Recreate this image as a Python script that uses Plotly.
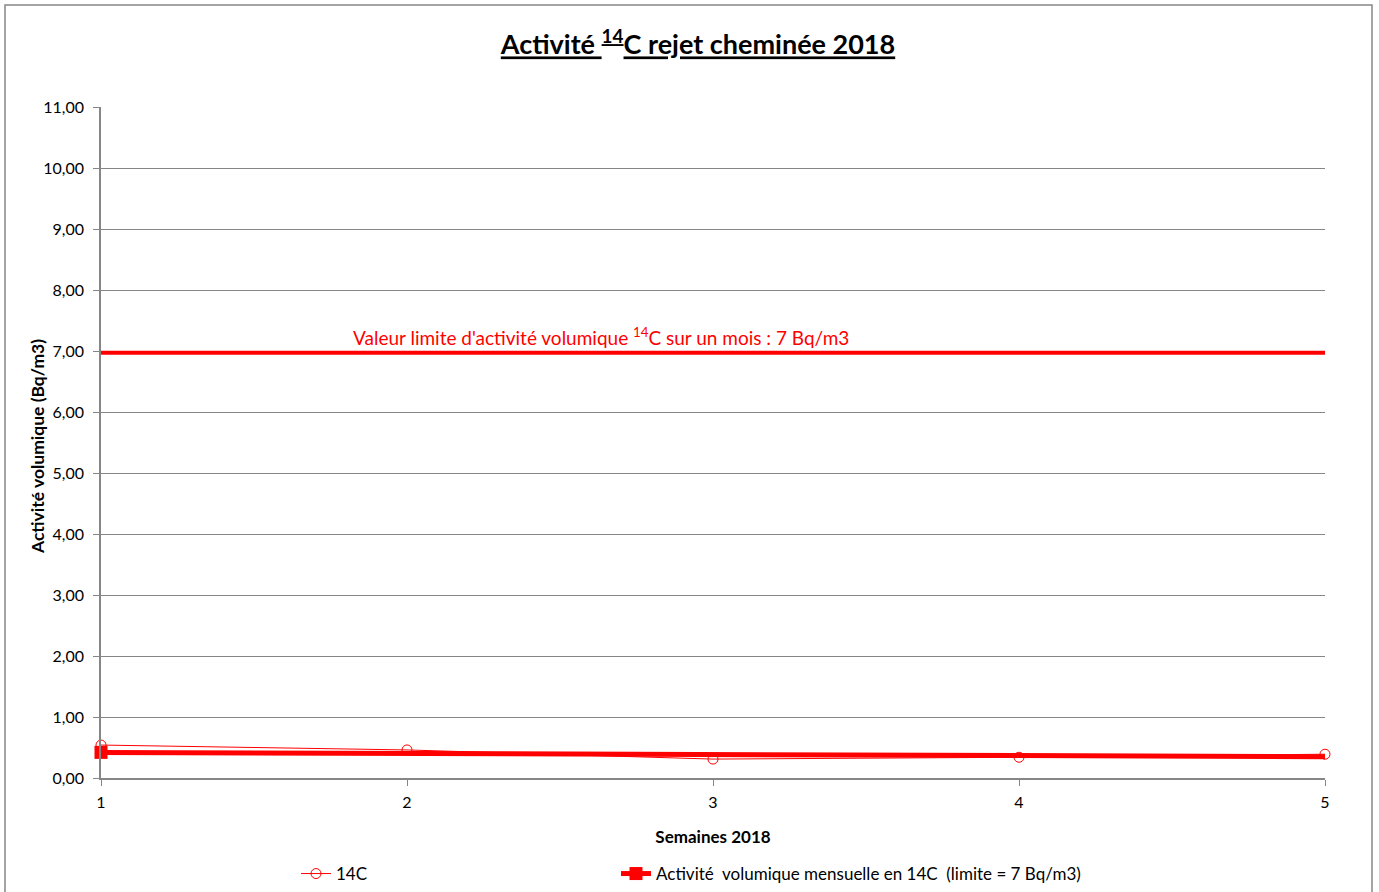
import plotly.graph_objects as go

weeks = [1, 2, 3, 4, 5]
c14_values = [0.54, 0.46, 0.31, 0.34, 0.39]
monthly_values = [0.42, 0.40, 0.38, 0.37, 0.35]
limit_values = [6.97, 6.97, 6.97, 6.97, 6.97]
y_ticks = [0, 1, 2, 3, 4, 5, 6, 7, 8, 9, 10, 11]

RED = "#FF0000"
GRAY = "#868686"
FONT = "Lato"

L, R, T, B = 101, 54, 107, 114
W, H = 1379, 892
pw, ph = W - L - R, H - T - B

def px_x(p):
    return (p - L) / pw

def px_y(p):
    return (H - B - p) / ph

fig = go.Figure()

fig.add_trace(go.Scatter(
    x=weeks, y=limit_values, mode="lines",
    line=dict(color=RED, width=4), showlegend=False, hoverinfo="skip",
    cliponaxis=False,
))

fig.add_trace(go.Scatter(
    x=weeks, y=c14_values, mode="lines+markers", name="14C",
    line=dict(color=RED, width=1),
    marker=dict(symbol="circle-open", size=10, color=RED, line=dict(width=1)),
    cliponaxis=False, legend="legend",
))

fig.add_trace(go.Scatter(
    x=weeks, y=monthly_values, mode="lines",
    line=dict(color=RED, width=5), showlegend=False, legendgroup="m",
    cliponaxis=False,
))
fig.add_trace(go.Scatter(
    x=weeks[:1], y=monthly_values[:1], mode="lines+markers",
    name="Activité  volumique mensuelle en 14C  (limite = 7 Bq/m3)",
    line=dict(color=RED, width=5),
    marker=dict(symbol="square", size=13, color=RED),
    legendgroup="m", cliponaxis=False, legend="legend2",
))

fig.add_annotation(
    x=1 + (601 - L) / (pw / 4), y=7.24, xref="x", yref="y",
    text="Valeur limite d'activité volumique <sup>14</sup>C sur un mois : 7 Bq/m3",
    showarrow=False, font=dict(color=RED, size=19, family=FONT),
)

# y axis title
fig.add_annotation(
    x=px_x(37), y=px_y(447), xref="paper", yref="paper",
    xanchor="center", yanchor="middle",
    text="<b>Activité volumique (Bq/m3)</b>", textangle=-90,
    showarrow=False, font=dict(size=17.5, family=FONT, color="black"),
)

# outer chart frame
fig.add_shape(type="rect", xref="paper", yref="paper",
              x0=px_x(5), x1=px_x(1372), y0=px_y(897), y1=px_y(5),
              line=dict(color=GRAY, width=1.5), layer="below")

fig.update_layout(
    width=W, height=H,
    margin=dict(l=L, r=R, t=T, b=B, autoexpand=False),
    paper_bgcolor="white", plot_bgcolor="white",
    separators=", ",
    font=dict(family=FONT, color="black", size=16),
    title=dict(
        text="<b><u>Activité <sup>14</sup>C rejet cheminée 2018</u></b>",
        x=px_x(698), xanchor="center", xref="paper",
        y=1 - 45 / H, yanchor="middle", yref="container",
        font=dict(size=27, family=FONT, color="black"),
    ),
    xaxis=dict(
        range=[1, 5], tickvals=weeks, showgrid=False, zeroline=False,
        showline=True, linecolor=GRAY, linewidth=1.5,
        ticks="outside", ticklen=6, tickcolor=GRAY, ticklabelstandoff=3,
        tickfont=dict(size=16, family=FONT),
        title=dict(text="<b>Semaines 2018</b>", font=dict(size=17, family=FONT), standoff=21),
    ),
    yaxis=dict(
        range=[0, 11], tickvals=y_ticks, tickformat=".2f",
        showgrid=True, gridcolor=GRAY, gridwidth=1, zeroline=False,
        showline=True, linecolor=GRAY, linewidth=1.5,
        ticks="outside", ticklen=6, tickcolor=GRAY, ticklabelstandoff=6,
        tickfont=dict(size=16, family=FONT),
    ),
    legend=dict(
        orientation="h", x=px_x(296), xanchor="left", y=px_y(874), yanchor="middle",
        font=dict(size=17, family=FONT), bgcolor="rgba(0,0,0,0)",
    ),
    legend2=dict(
        orientation="h", x=px_x(616), xanchor="left", y=px_y(874), yanchor="middle",
        font=dict(size=17, family=FONT), bgcolor="rgba(0,0,0,0)",
    ),
)

fig.write_html("out.html", config={"displayModeBar": False},
               post_script="document.body.style.margin='0';document.body.style.overflow='hidden';")
